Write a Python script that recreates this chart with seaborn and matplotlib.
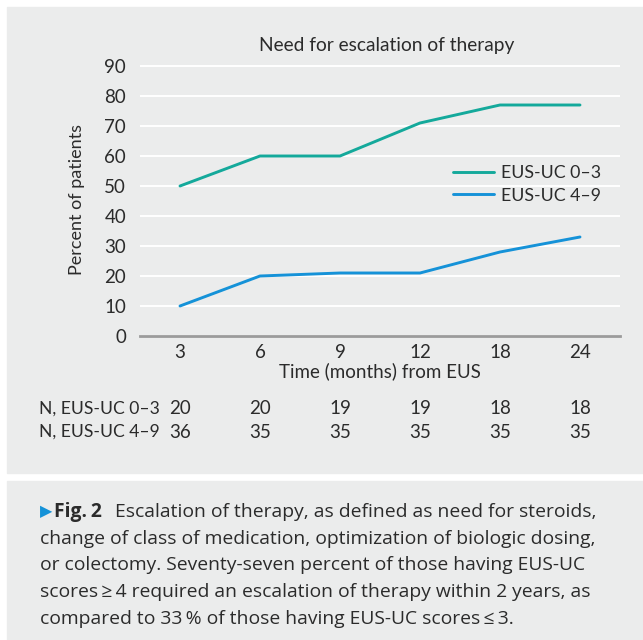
import matplotlib
matplotlib.use('Agg')
import matplotlib.pyplot as plt
import matplotlib.transforms as mtransforms
from matplotlib.patches import Rectangle
import pandas as pd
import seaborn as sns

# data
months = ['3', '6', '9', '12', '18', '24']
low_score = [50, 60, 60, 71, 77, 77]    # EUS-UC 0–3
high_score = [10, 20, 21, 21, 28, 33]   # EUS-UC 4–9
n_low = [20, 20, 19, 19, 18, 18]
n_high = [36, 35, 35, 35, 35, 35]
groups = ['EUS-UC 0–3', 'EUS-UC 4–9']
row_names = ['N, EUS-UC 0–3', 'N, EUS-UC 4–9']
colors = ['#14a99b', '#1592d8']
yticks = list(range(0, 100, 10))

caption_first = 'Escalation of therapy, as defined as need for steroids,'
caption_rest = [
    'change of class of medication, optimization of biologic dosing,',
    'or colectomy. Seventy-seven percent of those having EUS-UC',
    'scores\u2009\u2265\u20094 required an escalation of therapy within 2 years, as',
    'compared to 33\u2009% of those having EUS-UC scores\u2009\u2264\u20093.',
]

panel = '#ebecec'
ink = '#2b2b2b'
cap_font = ['Open Sans', 'DejaVu Sans']
cap_size = 13.9

sns.set_theme(style='white')
plt.rcParams['font.family'] = ['Lato', 'DejaVu Sans']
plt.rcParams['text.color'] = ink

W, H = 643, 640
fig = plt.figure(figsize=(W / 100, H / 100), dpi=100, facecolor='white')


def fx(px):
  return px / W


def fy(py):
  return 1 - py / H


# grey panels behind chart and caption
fig.patches.append(Rectangle((fx(7), fy(473)), 1 - fx(7), fy(7) - fy(473),
                             transform=fig.transFigure, color=panel, zorder=-1))
fig.patches.append(Rectangle((fx(7), 0), 1 - fx(7), fy(481),
                             transform=fig.transFigure, color=panel, zorder=-1))

ax = fig.add_axes([fx(140), fy(336), fx(620) - fx(140), fy(63) - fy(336)])
ax.set_facecolor('none')

df = pd.DataFrame({
  'month': months * 2,
  'pct': low_score + high_score,
  'group': [groups[0]] * len(months) + [groups[1]] * len(months),
})

sns.lineplot(data=df, x='month', y='pct', hue='group', sort=False,
             palette=dict(zip(groups, colors)), linewidth=2.1, ax=ax)

ax.set_xlim(-0.5, len(months) - 0.5)
ax.set_ylim(0, 91)
ax.set_yticks(yticks)
ax.yaxis.grid(True, color='white', linewidth=1.4)
ax.xaxis.grid(False)
ax.set_axisbelow(True)
for s in ['top', 'right', 'left']:
  ax.spines[s].set_visible(False)
ax.spines['bottom'].set_color('#9b9b9b')
ax.spines['bottom'].set_linewidth(2)
ax.tick_params(axis='y', length=0, pad=10, labelsize=13.5, labelcolor=ink)
ax.tick_params(axis='x', length=0, pad=6, labelsize=13.5, labelcolor=ink)

ax.set_title('Need for escalation of therapy', fontsize=13.8, color=ink, pad=9,
             x=0.513)
ax.set_xlabel('Time (months) from EUS', fontsize=13.5, color=ink, labelpad=1)
ax.set_ylabel('Percent of patients', fontsize=13, color=ink, labelpad=14)

sns.move_legend(ax, 'center left', bbox_to_anchor=(fx(453), fy(184.5)),
                bbox_transform=fig.transFigure, title=None, frameon=False,
                fontsize=12.8, borderpad=0, borderaxespad=0,
                handlelength=2.3, handletextpad=0.4, labelspacing=0.35)

# numbers at risk under the axis
trans = mtransforms.blended_transform_factory(ax.transData, fig.transFigure)
for row_y, name, counts in [(409, row_names[0], n_low), (432, row_names[1], n_high)]:
  fig.text(fx(39), fy(row_y), name, ha='left', va='center', fontsize=12.6)
  for i, c in enumerate(counts):
    ax.text(i, fy(row_y), str(c), transform=trans, ha='center', va='center',
            fontsize=13.5, clip_on=False)

# caption
t = fig.text(fx(40), fy(512), '\u25b6', color=colors[1], ha='left', va='center',
             fontsize=11.5, family='DejaVu Sans')
t = ax.annotate('Fig.\u20092', xy=(1, 0.5), xycoords=t, xytext=(1.5, 0),
                textcoords='offset points', ha='left', va='center',
                fontsize=cap_size, fontweight='bold', family=cap_font)
ax.annotate(caption_first, xy=(1, 0.5), xycoords=t, xytext=(9, 0),
            textcoords='offset points', ha='left', va='center', fontsize=cap_size,
            family=cap_font)
for k, line in enumerate(caption_rest):
  fig.text(fx(40), fy(539 + 26.5 * k), line, ha='left', va='center',
           fontsize=cap_size, family=cap_font)

fig.savefig('out.png', dpi=100, facecolor='white')
